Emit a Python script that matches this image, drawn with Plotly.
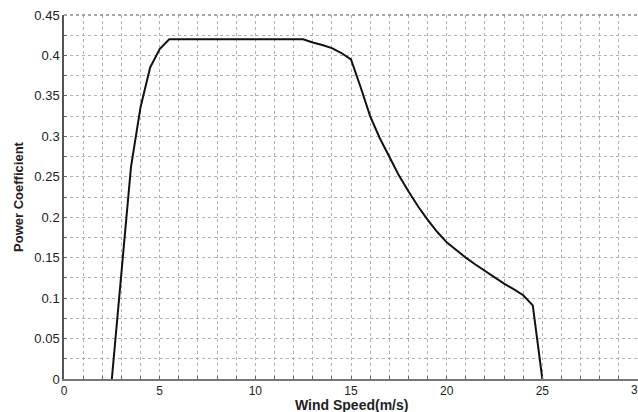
import plotly.graph_objects as go

wind_speed = [2.5, 3.0, 3.5, 4.0, 4.5, 5.0, 5.5, 12.5, 13.0, 13.5, 14.0, 14.5, 15.0,
              15.5, 16.0, 16.5, 17.0, 17.5, 18.0, 18.5, 19.0, 19.5, 20.0, 20.5,
              21.0, 21.5, 22.0, 22.5, 23.0, 23.5, 24.0, 24.5, 25.0]
power_coeff = [0.0, 0.128, 0.262, 0.336, 0.385, 0.408, 0.420, 0.420, 0.416, 0.413, 0.409, 0.403, 0.395,
               0.361, 0.325, 0.298, 0.274, 0.252, 0.232, 0.2135, 0.197, 0.182, 0.169, 0.159,
               0.150, 0.1415, 0.1335, 0.1255, 0.118, 0.111, 0.1035, 0.091, 0.0]

x_ticks = list(range(0, 31))
x_labels = [str(v) if v % 5 == 0 and v < 30 else "" for v in x_ticks]
x_edge_label = "30"
y_ticks = [i * 0.025 for i in range(19)]
y_labels = ["0", "", "0.05", "", "0.1", "", "0.15", "", "0.2", "", "0.25", "", "0.3", "",
            "0.35", "", "0.4", "", "0.45"]
x_title = "<b>Wind Speed(m/s)</b>"
y_title = "<b>Power Coefficient</b>"

fig = go.Figure()
fig.add_trace(go.Scatter(x=wind_speed, y=power_coeff, mode="lines",
                         line=dict(color="#111111", width=2), showlegend=False))

font = "Liberation Sans, Arial, sans-serif"
fig.update_layout(
    width=638, height=412,
    margin=dict(l=64, r=0, t=15, b=33),
    paper_bgcolor="white", plot_bgcolor="white",
    font=dict(family=font, size=12, color="#222222"),
    xaxis=dict(range=[0, 30], tickvals=x_ticks, ticktext=x_labels,
               showgrid=True, gridcolor="#b0b0b0", griddash="dot", gridwidth=1,
               ticks="inside", ticklen=3, tickcolor="#666666",
               showline=True, linecolor="#777777", linewidth=1.5,
               zeroline=False, tickfont=dict(size=12)),
    yaxis=dict(range=[0, 0.45], tickvals=y_ticks, ticktext=y_labels,
               showgrid=True, gridcolor="#b0b0b0", griddash="dot", gridwidth=1,
               ticks="inside", ticklen=3, tickcolor="#666666",
               showline=True, linecolor="#555555", linewidth=1.5,
               zeroline=False, tickfont=dict(size=13),
               title=dict(text=y_title, font=dict(size=13), standoff=8)),
)
fig.add_annotation(x=30, y=0, xref="x", yref="y", text=x_edge_label, showarrow=False,
                   yanchor="top", xanchor="center", yshift=-2,
                   font=dict(family=font, size=12, color="#222222"))
fig.add_annotation(x=0.5, y=0, xref="paper", yref="paper", text=x_title, showarrow=False,
                   yanchor="top", xanchor="center", yshift=-16,
                   font=dict(family=font, size=14, color="#222222"))
fig.add_shape(type="line", xref="paper", yref="paper", x0=0, x1=1, y0=1, y1=1,
              line=dict(color="#555555", width=1.2, dash="dot"))
fig.write_html("out.html")
